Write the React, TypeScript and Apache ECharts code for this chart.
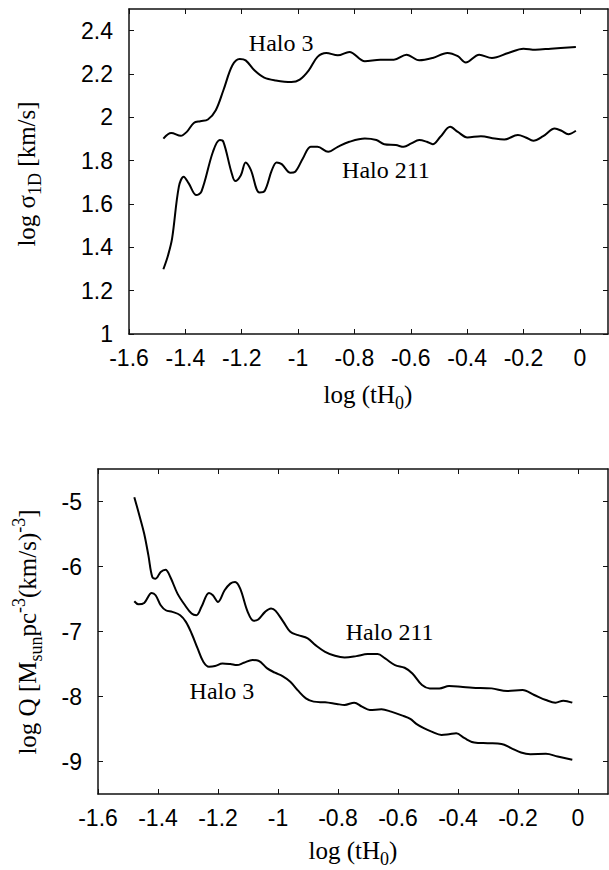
import React, { useEffect, useRef } from "react";
import * as echarts from "echarts";

// ---- data ----
const xTicks = [-1.6, -1.4, -1.2, -1, -0.8, -0.6, -0.4, -0.2, 0];
const sigmaTicks = [1, 1.2, 1.4, 1.6, 1.8, 2, 2.2, 2.4];
const qTicks = [-9, -8, -7, -6, -5];

const sigmaHalo3: [number, number][] = [
  [-1.478, 1.902], [-1.45, 1.928], [-1.416, 1.915], [-1.395, 1.933], [-1.37, 1.974],
  [-1.347, 1.982], [-1.32, 1.99], [-1.292, 2.033], [-1.265, 2.125], [-1.233, 2.24],
  [-1.207, 2.269], [-1.186, 2.263], [-1.155, 2.217], [-1.12, 2.183], [-1.079, 2.17],
  [-1.024, 2.163], [-0.994, 2.174], [-0.962, 2.217], [-0.931, 2.279], [-0.9, 2.297],
  [-0.859, 2.286], [-0.818, 2.302], [-0.763, 2.259], [-0.708, 2.266], [-0.66, 2.266],
  [-0.615, 2.289], [-0.57, 2.263], [-0.522, 2.274], [-0.47, 2.297], [-0.433, 2.282],
  [-0.405, 2.253], [-0.357, 2.289], [-0.312, 2.274], [-0.254, 2.297], [-0.2, 2.317],
  [-0.158, 2.312], [-0.103, 2.317], [-0.014, 2.325],
];

const sigmaHalo211: [number, number][] = [
  [-1.478, 1.299], [-1.461, 1.365], [-1.447, 1.441], [-1.423, 1.68], [-1.406, 1.726],
  [-1.388, 1.695], [-1.361, 1.641], [-1.343, 1.657], [-1.302, 1.841], [-1.278, 1.895],
  [-1.265, 1.887], [-1.237, 1.749], [-1.223, 1.706], [-1.203, 1.733], [-1.186, 1.792],
  [-1.168, 1.759], [-1.137, 1.653], [-1.118, 1.661], [-1.093, 1.756], [-1.076, 1.792],
  [-1.058, 1.784], [-1.027, 1.744], [-1.01, 1.749], [-0.983, 1.81], [-0.955, 1.864],
  [-0.931, 1.864], [-0.893, 1.841], [-0.859, 1.864], [-0.818, 1.887], [-0.763, 1.902],
  [-0.722, 1.895], [-0.694, 1.876], [-0.653, 1.872], [-0.625, 1.864], [-0.598, 1.88],
  [-0.57, 1.895], [-0.543, 1.887], [-0.522, 1.876], [-0.495, 1.91], [-0.46, 1.956],
  [-0.433, 1.933], [-0.399, 1.907], [-0.351, 1.913], [-0.302, 1.902], [-0.268, 1.898],
  [-0.22, 1.918], [-0.192, 1.907], [-0.165, 1.892], [-0.13, 1.913], [-0.089, 1.948],
  [-0.065, 1.938], [-0.041, 1.922], [-0.014, 1.938],
];

const qHalo211: [number, number][] = [
  [-1.479, -4.934], [-1.462, -5.215], [-1.446, -5.496], [-1.432, -5.829], [-1.419, -6.161],
  [-1.408, -6.187], [-1.391, -6.084], [-1.375, -6.049], [-1.359, -6.161], [-1.335, -6.417],
  [-1.31, -6.596], [-1.288, -6.724], [-1.272, -6.749], [-1.255, -6.621], [-1.23, -6.407],
  [-1.217, -6.442], [-1.2, -6.545], [-1.178, -6.366], [-1.159, -6.263], [-1.143, -6.238],
  [-1.126, -6.34], [-1.101, -6.698], [-1.081, -6.836], [-1.066, -6.816], [-1.043, -6.698],
  [-1.023, -6.647], [-1.008, -6.683], [-0.982, -6.852], [-0.959, -7.005], [-0.933, -7.056],
  [-0.901, -7.107], [-0.875, -7.21], [-0.843, -7.312], [-0.81, -7.373], [-0.778, -7.399],
  [-0.739, -7.379], [-0.701, -7.348], [-0.668, -7.348], [-0.643, -7.414], [-0.61, -7.517],
  [-0.578, -7.558], [-0.552, -7.645], [-0.52, -7.824], [-0.494, -7.875], [-0.462, -7.875],
  [-0.43, -7.839], [-0.391, -7.849], [-0.352, -7.864], [-0.288, -7.875], [-0.236, -7.916],
  [-0.185, -7.901], [-0.146, -7.977], [-0.107, -8.054], [-0.075, -8.095], [-0.049, -8.064],
  [-0.019, -8.095],
];

const qHalo3: [number, number][] = [
  [-1.479, -6.535], [-1.465, -6.581], [-1.446, -6.56], [-1.421, -6.407], [-1.408, -6.442],
  [-1.391, -6.596], [-1.374, -6.673], [-1.352, -6.698], [-1.326, -6.749], [-1.307, -6.852],
  [-1.288, -7.031], [-1.268, -7.261], [-1.249, -7.465], [-1.23, -7.542], [-1.21, -7.532],
  [-1.185, -7.491], [-1.159, -7.501], [-1.137, -7.517], [-1.114, -7.481], [-1.085, -7.44],
  [-1.065, -7.45], [-1.036, -7.568], [-1.01, -7.634], [-0.985, -7.685], [-0.959, -7.772],
  [-0.933, -7.91], [-0.907, -8.028], [-0.881, -8.079], [-0.843, -8.09], [-0.804, -8.115],
  [-0.778, -8.13], [-0.746, -8.095], [-0.72, -8.156], [-0.694, -8.207], [-0.655, -8.197],
  [-0.623, -8.233], [-0.585, -8.294], [-0.559, -8.345], [-0.539, -8.422], [-0.514, -8.488],
  [-0.488, -8.54], [-0.455, -8.591], [-0.43, -8.58], [-0.406, -8.565], [-0.378, -8.642],
  [-0.346, -8.708], [-0.301, -8.719], [-0.255, -8.729], [-0.223, -8.795], [-0.19, -8.862],
  [-0.159, -8.887], [-0.107, -8.882], [-0.068, -8.923], [-0.019, -8.974],
];

const sigmaLabels = [
  { name: "Halo 3", value: [-1.06, 2.345] },
  { name: "Halo 211", value: [-0.688, 1.755] },
];
const qLabels = [
  { name: "Halo 211", value: [-0.628, -7.015] },
  { name: "Halo 3", value: [-1.187, -7.91] },
];

const X_MIN = -1.6;
const X_MAX = 0.1;
const SIGMA_MIN = 1;
const SIGMA_MAX = 2.5;
const Q_MIN = -9.5;
const Q_MAX = -4.5;

const SANS = "'Liberation Sans', Arial, sans-serif";
const SERIF = "'Liberation Serif', 'Times New Roman', serif";
const fmt = (v: number) => String(Number(v.toFixed(2)));

function axisPair(kind: "x" | "y", grid: number, min: number, max: number, ticks: number[]) {
  const lineStyle = { color: "#111", width: 1.5 };
  const main: any = {
    type: "value",
    gridIndex: grid,
    min,
    max,
    position: kind === "x" ? "bottom" : "left",
    axisLine: { show: true, onZero: false, lineStyle },
    axisTick: { show: true, inside: true, length: 5, customValues: ticks, lineStyle: { color: "#111", width: 1 } },
    axisLabel: {
      show: true,
      customValues: ticks,
      formatter: (v: number) => fmt(v),
      fontFamily: SANS,
      fontSize: 23,
      color: "#000",
      margin: kind === "x" ? 12 : 16,
    },
    splitLine: { show: false },
  };
  const mirror: any = {
    type: "value",
    gridIndex: grid,
    min,
    max,
    position: kind === "x" ? "top" : "right",
    axisLine: { show: true, onZero: false, lineStyle },
    axisTick: { show: true, inside: true, length: 5, customValues: ticks, lineStyle: { color: "#111", width: 1 } },
    axisLabel: { show: false },
    splitLine: { show: false },
  };
  return [main, mirror];
}

function curve(data: [number, number][], xi: number, yi: number) {
  return {
    type: "line",
    xAxisIndex: xi,
    yAxisIndex: yi,
    data,
    smooth: 0.35,
    showSymbol: false,
    symbol: "none",
    lineStyle: { color: "#000", width: 2 },
    silent: true,
  };
}

export default function App() {
  const ref = useRef<HTMLDivElement>(null);
  useEffect(() => {
    document.body.style.margin = "0";
    const chart = echarts.init(ref.current!, undefined, { renderer: "svg" });
    const [x0, x0m] = axisPair("x", 0, X_MIN, X_MAX, xTicks);
    const [x1, x1m] = axisPair("x", 1, X_MIN, X_MAX, xTicks);
    const [y0, y0m] = axisPair("y", 0, SIGMA_MIN, SIGMA_MAX, sigmaTicks);
    const [y1, y1m] = axisPair("y", 1, Q_MIN, Q_MAX, qTicks);

    const titleRich = {
      n: { fontFamily: SERIF, fontSize: 25, color: "#000" },
      h: { fontFamily: SERIF, fontSize: 24, color: "#000" },
      sub: { fontFamily: SERIF, fontSize: 18, color: "#000", padding: [18, 0, 0, 0] },
      sup: { fontFamily: SERIF, fontSize: 18, color: "#000", padding: [0, 0, 16, 0] },
    };

    chart.setOption({
      animation: false,
      backgroundColor: "#fff",
      grid: [
        { left: 129, right: 1, top: 9, height: 325 },
        { left: 98, right: 1, top: 469, height: 325 },
      ],
      xAxis: [x0, x0m, x1, x1m],
      yAxis: [y0, y0m, y1, y1m],
      series: [
        curve(sigmaHalo3, 0, 0),
        curve(sigmaHalo211, 0, 0),
        curve(qHalo211, 2, 2),
        curve(qHalo3, 2, 2),
      ],
    });

    const halo = (items: any[], gridIndex: number) =>
      items.map((d) => {
        const p = chart.convertToPixel({ gridIndex }, d.value) as number[];
        return {
          type: "text",
          x: p[0],
          y: p[1],
          style: {
            text: "{h|" + d.name + "}",
            rich: titleRich,
            align: "center",
            verticalAlign: "middle",
          },
        };
      });

    chart.setOption({
      graphic: [
        ...halo(sigmaLabels, 0),
        ...halo(qLabels, 1),
        {
          type: "text",
          x: 368,
          y: 394,
          style: {
            text: "{n|log (tH}{sub|0}{n|)}",
            rich: titleRich,
            align: "center",
            verticalAlign: "middle",
          },
        },
        {
          type: "text",
          x: 353,
          y: 850,
          style: {
            text: "{n|log (tH}{sub|0}{n|)}",
            rich: titleRich,
            align: "center",
            verticalAlign: "middle",
          },
        },
        {
          type: "text",
          x: 26,
          y: 174,
          rotation: Math.PI / 2,
          style: {
            text: "{n|log σ}{sub|1D}{n| [km/s]}",
            rich: titleRich,
            align: "center",
            verticalAlign: "middle",
          },
        },
        {
          type: "text",
          x: 27,
          y: 632,
          rotation: Math.PI / 2,
          style: {
            text: "{n|log Q [M}{sub|sun}{n|pc}{sup|-3}{n|(km/s)}{sup|-3}{n|]}",
            rich: titleRich,
            align: "center",
            verticalAlign: "middle",
          },
        },
      ],
    });
    return () => chart.dispose();
  }, []);
  return <div ref={ref} style={{ width: 609, height: 870 }} />;
}
